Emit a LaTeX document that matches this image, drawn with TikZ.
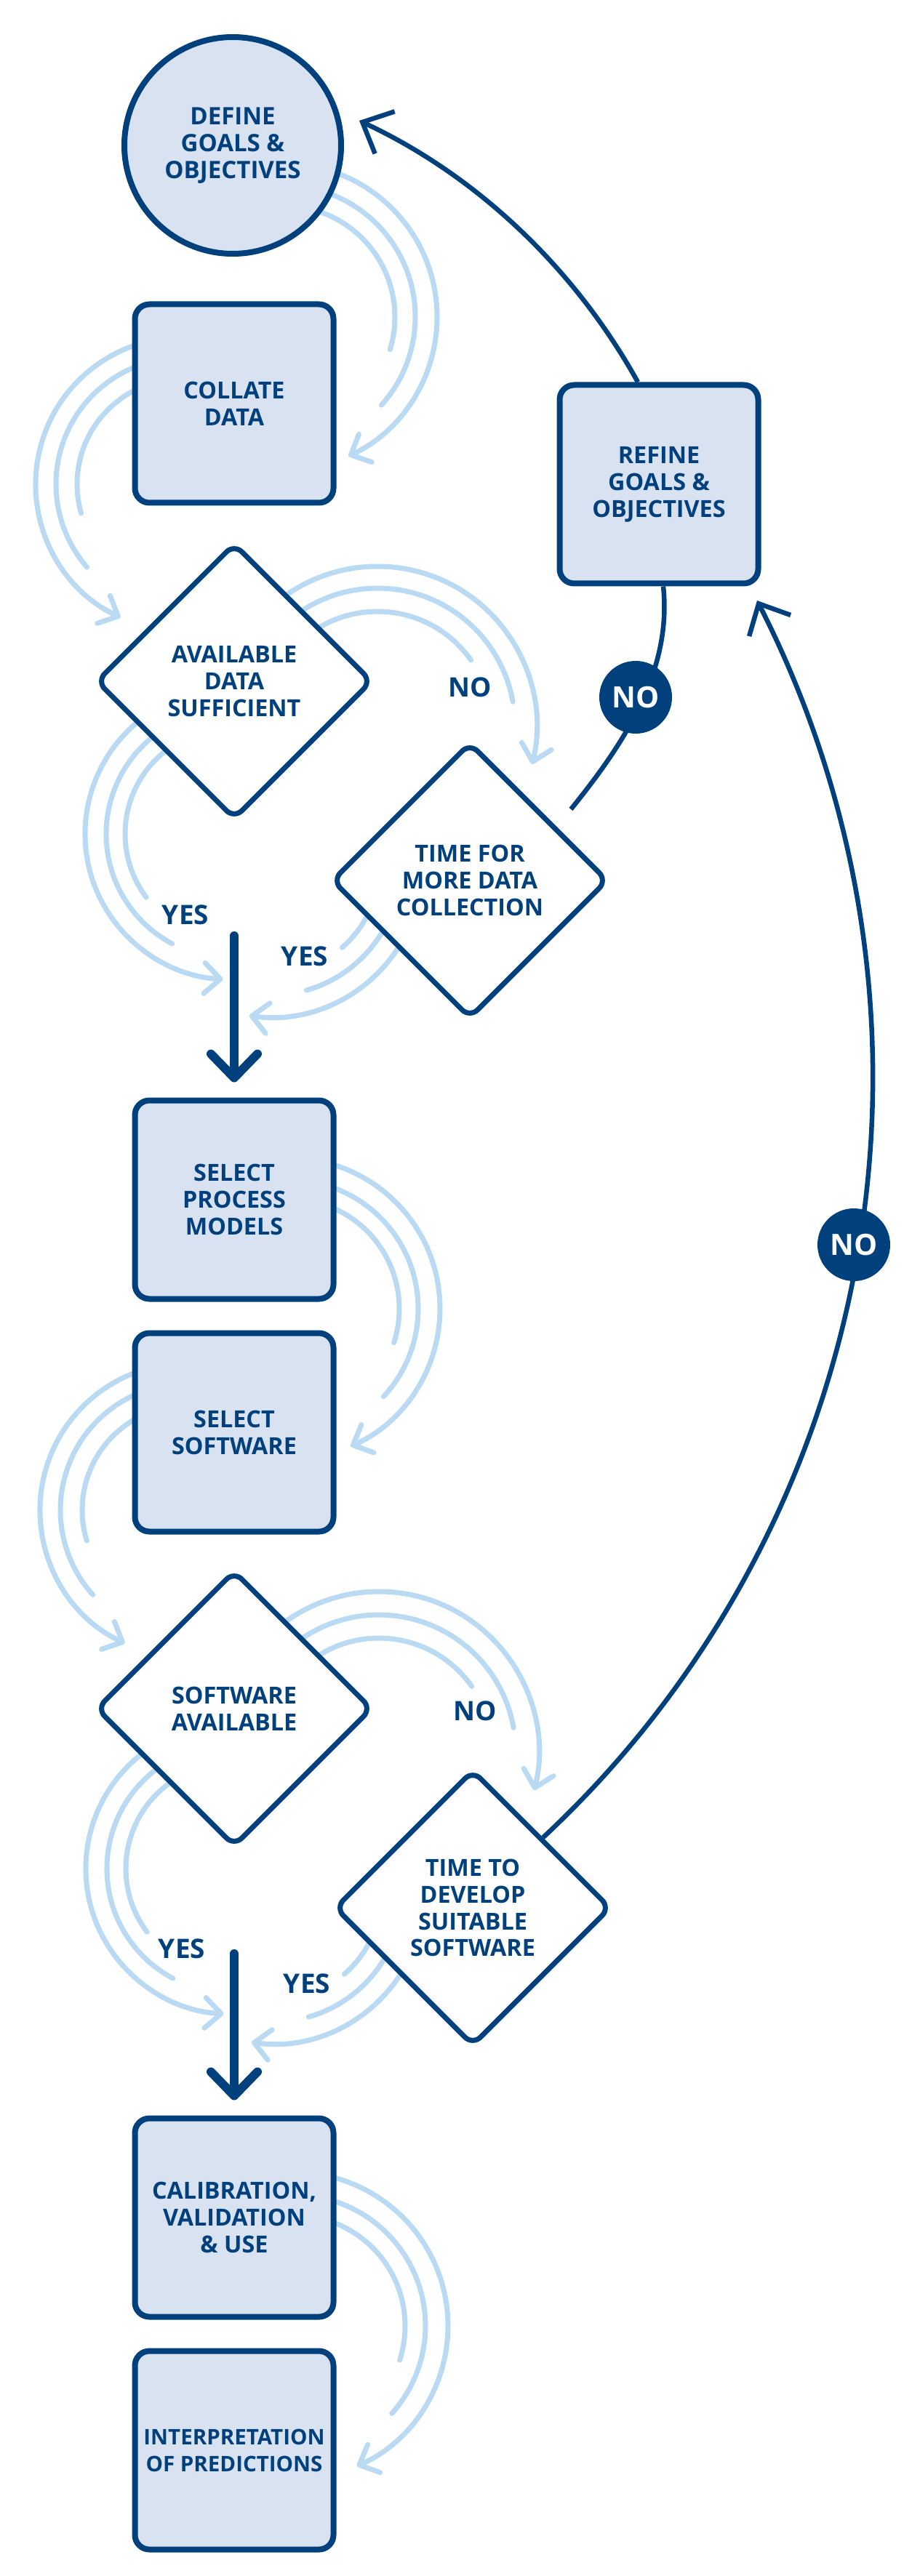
\documentclass[tikz,border=0pt]{standalone}
\usepackage{fontspec}
\setmainfont{Open Sans}
\usepackage{xcolor}
\usepackage{tikz}
\usetikzlibrary{arrows.meta,shapes.geometric,backgrounds}

\definecolor{navy}{RGB}{0,64,125}
\definecolor{boxfill}{RGB}{217,226,240}
\definecolor{flowblue}{RGB}{185,218,242}

\tikzset{
    stepbox/.style = {draw=navy, fill=boxfill, line width=0.8mm, rounded corners=2mm,
        minimum width=2.73cm, minimum height=2.73cm, inner sep=0pt, align=center,
        text=navy, font=\fontsize{9.2}{10.5}\selectfont\bfseries},
    startcircle/.style = {circle, draw=navy, fill=boxfill, line width=0.8mm,
        minimum size=2.98cm, inner sep=0pt, align=center,
        text=navy, font=\fontsize{9.4}{10.5}\selectfont\bfseries},
    decision/.style = {diamond, aspect=1, draw=navy, fill=white, line width=0.7mm,
        rounded corners=1.5mm, minimum width=3.8cm, minimum height=3.8cm,
        inner sep=0pt, align=center,
        text=navy, font=\fontsize{9.2}{10.5}\selectfont\bfseries},
    answer/.style = {text=navy, font=\fontsize{10.5}{12}\selectfont\bfseries},
    nobubble/.style = {circle, fill=navy, minimum size=1cm, inner sep=0pt,
        text=white, font=\fontsize{11.5}{12}\selectfont\bfseries},
    flow/.style = {draw=flowblue, line width=0.7mm, line cap=round},
    flowtip/.style = {-{Straight Barb[length=2.2mm,width=4.2mm,round]}},
    nolink/.style = {draw=navy, line width=0.65mm},
    notip/.style = {-{Straight Barb[length=3.4mm,width=6.4mm]}},
    yesarrow/.style = {draw=navy, line width=1.2mm, line cap=round,
        -{Straight Barb[length=3.3mm,width=6.4mm,round]}}
}

\begin{document}
\begin{tikzpicture}

    % \draw [help lines, step = 1] (0,0) grid (12.65,-35.43);
    \useasboundingbox (0,0) rectangle (12.65,-35.43);

    % first part
    \node [startcircle] (goal) at (3.20,-2.00) {DEFINE\\GOALS \&\\OBJECTIVES};
    \node [stepbox] (collate) at (3.22,-5.55) {COLLATE\\DATA};
    \node [decision] (avail) at (3.22,-9.37) {AVAILABLE\\DATA\\SUFFICIENT};
    \node [decision] (tmore) at (6.46,-12.11) {TIME FOR\\MORE DATA\\COLLECTION};
    \node [stepbox] (refine) at (9.06,-6.66) {REFINE\\GOALS \&\\OBJECTIVES};

    % second part
    \node [stepbox] (process) at (3.22,-16.50) {SELECT\\PROCESS\\MODELS};
    \node [stepbox] (software) at (3.22,-19.70) {SELECT\\SOFTWARE};
    \node [decision] (swavail) at (3.22,-23.50) {SOFTWARE\\AVAILABLE};
    \node [decision] (tdev) at (6.50,-26.24) {TIME TO\\DEVELOP\\SUITABLE\\SOFTWARE};

    % last part
    \node [stepbox] (calib) at (3.22,-30.50) {CALIBRATION,\\VALIDATION\\\& USE};
    \node [stepbox, font=\fontsize{8.4}{10.5}\selectfont\bfseries] (interp) at (3.22,-33.70) {INTERPRETATION\\OF PREDICTIONS};

    % answers
    \node [answer] (no1-label) at (6.46,-9.45) {NO};
    \node [answer] (yes1-left) at (2.55,-12.58) {YES};
    \node [answer] (yes1-right) at (4.19,-13.15) {YES};
    \node [answer] (no2-label) at (6.53,-23.53) {NO};
    \node [answer] (yes2-left) at (2.50,-26.80) {YES};
    \node [answer] (yes2-right) at (4.22,-27.28) {YES};

    % flow centres
    \coordinate (f1) at (3.90,-4.36);
    \coordinate (f2) at (2.51,-6.66);
    \coordinate (f3) at (5.19,-9.98);
    \coordinate (f4) at (3.17,-11.47);
    \coordinate (f5) at (3.72,-11.90);
    \coordinate (f6) at (3.98,-18.00);
    \coordinate (f7) at (2.57,-20.77);
    \coordinate (f8) at (5.21,-24.09);
    \coordinate (f9) at (3.18,-25.70);
    \coordinate (f10) at (3.75,-26.02);
    \coordinate (f11) at (4.05,-31.99);

    \begin{scope}[on background layer]
    % goal to collate
    \draw [flow, flowtip] ([shift={(90:2.11)}]f1) arc [start angle=90, end angle=-65, radius=2.11];
    \draw [flow] ([shift={(90:1.81)}]f1) arc [start angle=90, end angle=-42, radius=1.81];
    \draw [flow] ([shift={(90:1.53)}]f1) arc [start angle=90, end angle=-17, radius=1.53];

    % collate to avail
    \draw [flow, flowtip] ([shift={(80:2.02)}]f2) arc [start angle=80, end angle=245, radius=2.02];
    \draw [flow] ([shift={(80:1.74)}]f2) arc [start angle=80, end angle=221, radius=1.74];
    \draw [flow] ([shift={(80:1.45)}]f2) arc [start angle=80, end angle=196, radius=1.45];

    % avail to tmore
    \draw [flow, flowtip] ([shift={(135:2.19)}]f3) arc [start angle=135, end angle=-14, radius=2.19];
    \draw [flow] ([shift={(135:1.89)}]f3) arc [start angle=135, end angle=10, radius=1.89];
    \draw [flow] ([shift={(135:1.57)}]f3) arc [start angle=135, end angle=35, radius=1.57];

    % avail yes
    \draw [flow, flowtip] ([shift={(125:2.00)}]f4) arc [start angle=125, end angle=267, radius=2.00];
    \draw [flow] ([shift={(125:1.71)}]f4) arc [start angle=125, end angle=242, radius=1.71];
    \draw [flow] ([shift={(125:1.45)}]f4) arc [start angle=125, end angle=217, radius=1.45];

    % tmore yes
    \draw [flow, flowtip] ([shift={(340:2.09)}]f5) arc [start angle=340, end angle=262, radius=2.09];
    \draw [flow] ([shift={(340:1.79)}]f5) arc [start angle=340, end angle=286, radius=1.79];
    \draw [flow] ([shift={(340:1.50)}]f5) arc [start angle=340, end angle=311, radius=1.50];

    % process to software
    \draw [flow, flowtip] ([shift={(90:2.07)}]f6) arc [start angle=90, end angle=-66, radius=2.07];
    \draw [flow] ([shift={(90:1.77)}]f6) arc [start angle=90, end angle=-43, radius=1.77];
    \draw [flow] ([shift={(90:1.51)}]f6) arc [start angle=90, end angle=-18, radius=1.51];

    % software to swavail
    \draw [flow, flowtip] ([shift={(80:2.02)}]f7) arc [start angle=80, end angle=245, radius=2.02];
    \draw [flow] ([shift={(80:1.74)}]f7) arc [start angle=80, end angle=222, radius=1.74];
    \draw [flow] ([shift={(80:1.44)}]f7) arc [start angle=80, end angle=197, radius=1.44];

    % swavail to tdev
    \draw [flow, flowtip] ([shift={(135:2.20)}]f8) arc [start angle=135, end angle=-14, radius=2.20];
    \draw [flow] ([shift={(135:1.88)}]f8) arc [start angle=135, end angle=10, radius=1.88];
    \draw [flow] ([shift={(135:1.56)}]f8) arc [start angle=135, end angle=35, radius=1.56];

    % swavail yes
    \draw [flow, flowtip] ([shift={(125:2.00)}]f9) arc [start angle=125, end angle=267, radius=2.00];
    \draw [flow] ([shift={(125:1.71)}]f9) arc [start angle=125, end angle=242, radius=1.71];
    \draw [flow] ([shift={(125:1.45)}]f9) arc [start angle=125, end angle=217, radius=1.45];

    % tdev yes
    \draw [flow, flowtip] ([shift={(340:2.09)}]f10) arc [start angle=340, end angle=262, radius=2.09];
    \draw [flow] ([shift={(340:1.79)}]f10) arc [start angle=340, end angle=286, radius=1.79];
    \draw [flow] ([shift={(340:1.50)}]f10) arc [start angle=340, end angle=311, radius=1.50];

    % calib to interp
    \draw [flow, flowtip] ([shift={(90:2.11)}]f11) arc [start angle=90, end angle=-66, radius=2.11];
    \draw [flow] ([shift={(90:1.80)}]f11) arc [start angle=90, end angle=-42, radius=1.80];
    \draw [flow] ([shift={(90:1.52)}]f11) arc [start angle=90, end angle=-18, radius=1.52];
    \end{scope}

    % yes arrows
    \coordinate (yes1-start) at (3.22,-12.87);
    \coordinate (yes2-start) at (3.22,-26.87);
    \draw [yesarrow] (yes1-start) -- ([yshift=2.1mm]process.north);
    \draw [yesarrow] (yes2-start) -- ([yshift=2.1mm]calib.north);

    % no loops
    \coordinate (tmore-out) at (7.85,-11.13);
    \coordinate (goal-in) at (4.94,-1.66);
    \coordinate (refine-in) at (10.41,-8.26);
    \draw [nolink] (tmore-out) to [out=51, in=-84, looseness=0.9] ([xshift=0.6mm]refine.south);
    \draw [nolink, notip] ([xshift=-2.9mm]refine.north) to [out=119, in=-25, looseness=0.87] (goal-in);
    \draw [nolink, notip] (tdev.north east) to [out=43, in=-63, looseness=0.95] (refine-in);

    \node [nobubble] (no1) at (8.74,-9.59) {NO};
    \node [nobubble] (no2) at (11.74,-17.12) {NO};

\end{tikzpicture}
\end{document}
